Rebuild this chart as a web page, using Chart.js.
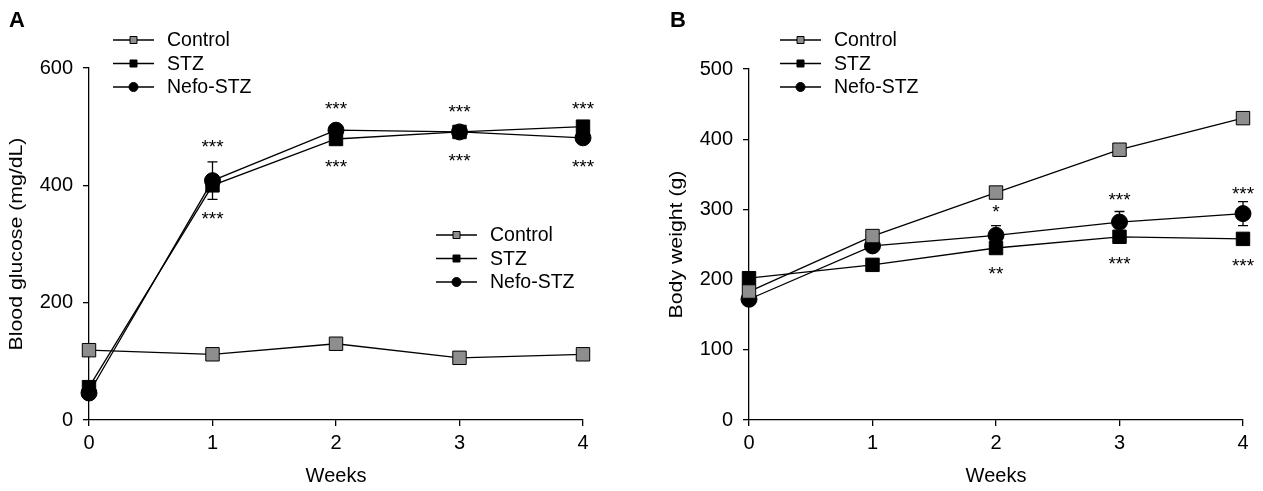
<!DOCTYPE html>
<html>
<head>
<meta charset="utf-8">
<script src="https://cdn.jsdelivr.net/npm/chart.js@4.4.1/dist/chart.umd.min.js"></script>
<style>
  html, body { margin: 0; padding: 0; background: #fff; }
  #wrap { position: relative; width: 1263px; height: 491px; }
  .box { position: absolute; top: 0; height: 491px; }
</style>
</head>
<body>
<div id="wrap">
  <div class="box" style="left:0;width:630px"><canvas id="chartA" width="630" height="491"></canvas></div>
  <div class="box" style="left:630px;width:633px"><canvas id="chartB" width="633" height="491"></canvas></div>
</div>
<script>
const weeks = [0, 1, 2, 3, 4];
const seriesNames = ["Control", "STZ", "Nefo-STZ"];

// A: blood glucose (mg/dL)
const glucoseControl = [119, 112, 130, 106, 112];
const glucoseSTZ = [56, 400, 479, 491, 500];
const glucoseNefo = [46, 408, 494, 491, 481];
const glucoseNefoErr = [8, 32, 6, 6, 6];
const glucoseSig = ["", "***", "***", "***", "***"];
const glucoseSigUp = [null, 472, 537, 532, 537];
const glucoseSigDown = [null, 349, 438, 448, 438];
const glucoseTicks = [0, 200, 400, 600];

// B: body weight (g)
const weightControl = [183, 262, 324, 385, 430];
const weightSTZ = [202, 221, 245, 261, 258];
const weightNefo = [172, 248, 263, 282, 294];
const weightNefoErr = [4, 5, 14, 15, 17];
const weightSigUpText = ["", "", "*", "***", "***"];
const weightSigUp = [null, null, 302, 320, 328];
const weightSigDownText = ["", "", "**", "***", "***"];
const weightSigDown = [null, null, 214, 228, 225];
const weightTicks = [0, 100, 200, 300, 400, 500];

const FONT = "'Liberation Sans', Arial, Helvetica, sans-serif";
const GRAY = "#8e8e8e";

function ds(label, values, style, fill, radius) {
  return {
    label: label,
    data: values.map((v, i) => ({ x: weeks[i], y: v })),
    borderColor: "#000",
    borderWidth: 1.3,
    pointStyle: style,
    pointRadius: radius,
    pointHoverRadius: radius,
    pointBackgroundColor: fill,
    pointBorderColor: "#000",
    pointBorderWidth: 1,
    clip: false,
    tension: 0,
  };
}

function drawMarker(ctx, style, fill, x, y) {
  ctx.save();
  ctx.fillStyle = fill;
  ctx.strokeStyle = "#000";
  ctx.lineWidth = 1;
  ctx.beginPath();
  if (style === "circle") ctx.arc(x, y, 4.5, 0, Math.PI * 2);
  else ctx.rect(x - 3.5, y - 3.5, 7, 7);
  ctx.fill();
  ctx.stroke();
  ctx.restore();
}

const extras = {
  id: "extras",
  beforeDatasetsDraw(chart, args, o) {
    const ctx = chart.ctx, xs = chart.scales.x, ys = chart.scales.y;
    ctx.save();
    ctx.strokeStyle = "#000";
    ctx.lineWidth = 1.3;
    o.errVals.forEach((v, i) => {
      const x = xs.getPixelForValue(weeks[i]);
      const t = ys.getPixelForValue(v + o.errs[i]);
      const b = ys.getPixelForValue(v - o.errs[i]);
      ctx.beginPath();
      ctx.moveTo(x, t); ctx.lineTo(x, b);
      ctx.moveTo(x - 5, t); ctx.lineTo(x + 5, t);
      ctx.moveTo(x - 5, b); ctx.lineTo(x + 5, b);
      ctx.stroke();
    });
    ctx.restore();
  },
  afterDatasetsDraw(chart, args, o) {
    const ctx = chart.ctx, xs = chart.scales.x, ys = chart.scales.y;
    ctx.save();
    ctx.fillStyle = "#000";
    ctx.textAlign = "center";
    ctx.textBaseline = "middle";
    ctx.font = "19px " + FONT;
    const sig = (texts, vals) => vals.forEach((v, i) => {
      if (v === null) return;
      ctx.fillText(texts[i], xs.getPixelForValue(weeks[i]), ys.getPixelForValue(v) + 5);
    });
    sig(o.sigUpText, o.sigUp);
    sig(o.sigDownText, o.sigDown);

    // legends
    const styles = [["rect", GRAY], ["rect", "#000"], ["circle", "#000"]];
    ctx.textAlign = "left";
    ctx.font = "19.5px " + FONT;
    o.legends.forEach(([lx, ly]) => {
      seriesNames.forEach((name, k) => {
        const y = ly + k * 23.5;
        ctx.strokeStyle = "#000";
        ctx.lineWidth = 1.3;
        ctx.beginPath();
        ctx.moveTo(lx, y); ctx.lineTo(lx + 41, y);
        ctx.stroke();
        drawMarker(ctx, styles[k][0], styles[k][1], lx + 20.5, y);
        ctx.fillStyle = "#000";
        ctx.fillText(name, lx + 54, y + 1);
      });
    });

    // y axis title
    ctx.save();
    ctx.font = "19px " + FONT;
    ctx.textAlign = "center";
    ctx.translate(o.titleX, (chart.chartArea.top + chart.chartArea.bottom) / 2);
    ctx.rotate(-Math.PI / 2);
    ctx.scale(1.12, 1);
    ctx.fillText(o.yTitle, 0, 0);
    ctx.restore();

    // panel letter
    ctx.font = "bold 22px " + FONT;
    ctx.fillText(o.letter, o.letterX, 21);
    ctx.restore();
  },
};

function makeChart(id, p) {
  const tickFont = { family: FONT, size: 20 };
  return new Chart(document.getElementById(id), {
    type: "line",
    data: {
      datasets: [
        ds(seriesNames[0], p.control, "rect", GRAY, 9.5),
        ds(seriesNames[1], p.stz, "rect", "#000", 9.5),
        ds(seriesNames[2], p.nefo, "circle", "#000", 8),
      ],
    },
    options: {
      responsive: false,
      animation: false,
      events: [],
      layout: { padding: { left: 0, top: p.top, right: p.right, bottom: 0 } },
      scales: {
        x: {
          type: "linear",
          min: 0,
          max: 4,
          ticks: { stepSize: 1, color: "#000", font: tickFont, padding: 5 },
          grid: { drawOnChartArea: false, drawTicks: true, tickLength: 6, color: "#000", lineWidth: 1.3 },
          border: { color: "#000", width: 1.3 },
          title: { display: true, text: "Weeks", color: "#000", font: { family: FONT, size: 20 }, padding: { top: 0, bottom: 3 } },
          afterFit: (s) => { s.height = 71; },
        },
        y: {
          type: "linear",
          min: 0,
          max: p.ticks[p.ticks.length - 1],
          afterBuildTicks: (s) => { s.ticks = p.ticks.map((v) => ({ value: v })); },
          ticks: { color: "#000", font: tickFont, padding: 10 },
          grid: { drawOnChartArea: false, drawTicks: true, tickLength: 6, color: "#000", lineWidth: 1.3 },
          border: { color: "#000", width: 1.3 },
          afterFit: (s) => { s.width = p.yWidth; },
        },
      },
      plugins: {
        legend: { display: false },
        tooltip: { enabled: false },
        extras: {
          errVals: p.nefo,
          errs: p.nefoErr,
          sigUpText: p.sigUpText,
          sigUp: p.sigUp,
          sigDownText: p.sigDownText,
          sigDown: p.sigDown,
          legends: p.legends,
          yTitle: p.yTitle,
          titleX: p.titleX,
          letter: p.letter,
          letterX: p.letterX,
        },
      },
    },
    plugins: [extras],
  });
}

makeChart("chartA", {
  control: glucoseControl, stz: glucoseSTZ, nefo: glucoseNefo, nefoErr: glucoseNefoErr,
  sigUpText: glucoseSig, sigUp: glucoseSigUp, sigDownText: glucoseSig, sigDown: glucoseSigDown,
  ticks: glucoseTicks, yTitle: "Blood glucose (mg/dL)", titleX: 17,
  top: 68, right: 47, yWidth: 89,
  legends: [[113, 40], [436, 235]], letter: "A", letterX: 9,
});

makeChart("chartB", {
  control: weightControl, stz: weightSTZ, nefo: weightNefo, nefoErr: weightNefoErr,
  sigUpText: weightSigUpText, sigUp: weightSigUp, sigDownText: weightSigDownText, sigDown: weightSigDown,
  ticks: weightTicks, yTitle: "Body weight (g)", titleX: 47,
  top: 69, right: 20, yWidth: 119,
  legends: [[150, 40]], letter: "B", letterX: 40,
});
</script>
</body>
</html>
